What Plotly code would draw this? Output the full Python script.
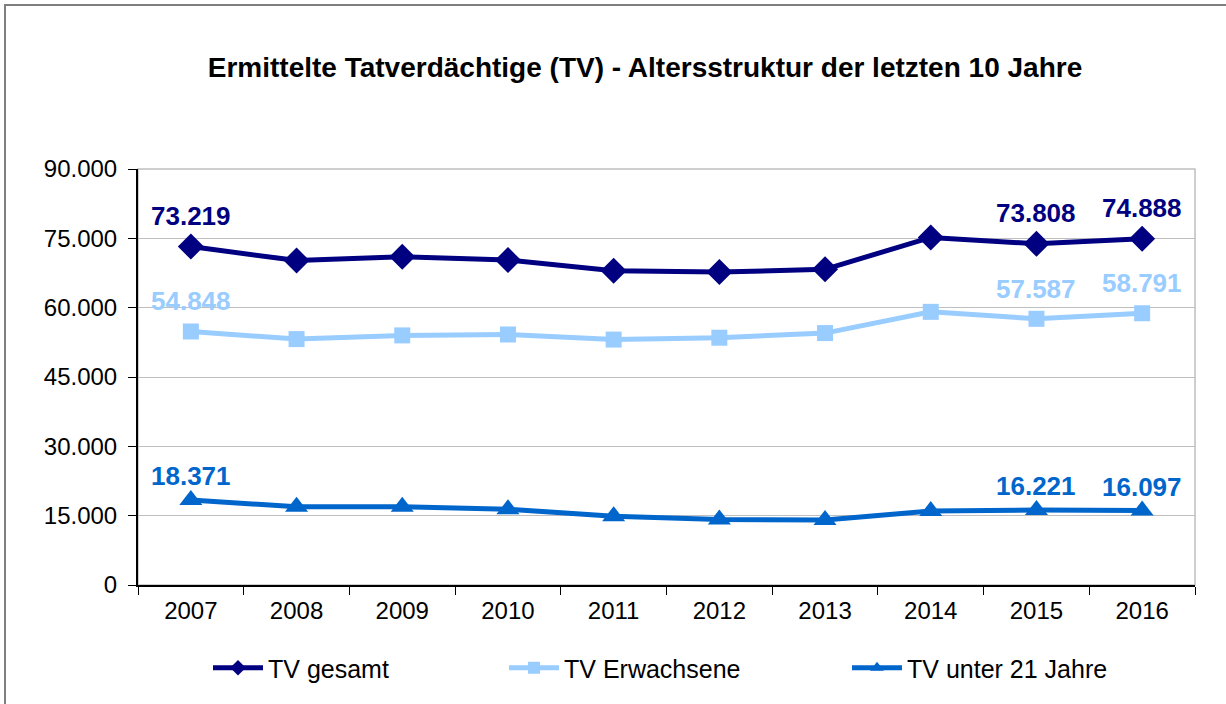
import plotly.graph_objects as go

years = ["2007", "2008", "2009", "2010", "2011", "2012", "2013", "2014", "2015", "2016"]
tv_gesamt = [73219, 70200, 71000, 70300, 68000, 67700, 68300, 75200, 73808, 74888]
tv_erwachsene = [54848, 53200, 54000, 54200, 53100, 53500, 54500, 59100, 57587, 58791]
tv_unter21 = [18371, 16950, 16950, 16400, 14900, 14150, 14050, 16000, 16221, 16097]
label_idx = [0, 8, 9]

FONT = "Liberation Sans, Arial, sans-serif"
series = [
    ("TV gesamt", tv_gesamt, "#000080", "diamond", 20, "legend", 31),
    ("TV Erwachsene", tv_erwachsene, "#99CCFF", "square", 16, "legend2", 30),
    ("TV unter 21 Jahre", tv_unter21, "#0066CC", "triangle-up", 20, "legend3", 24),
]

fig = go.Figure()
annotations = []
for name, vals, color, sym, msize, leg, shift in series:
    fig.add_trace(go.Scatter(
        x=years, y=vals, name=name, mode="lines+markers",
        line=dict(color=color, width=5),
        marker=dict(symbol=sym, size=msize, color=color),
        legend=leg, showlegend=True,
    ))
    for i in label_idx:
        annotations.append(dict(
            x=i, y=vals[i], xref="x", yref="y",
            text=f"{vals[i]:,}".replace(",", "."), showarrow=False,
            yshift=shift, font=dict(family=FONT, size=26, color=color, weight="bold"),
        ))

L, R, T, B = 138, 1195, 169, 585
W, H = 1226, 704
pw, ph = R - L, B - T

def px2x(px):
    return (px - L) / pw

def px2y(py):
    return (B - py) / ph

leg_common = dict(orientation="h", xanchor="left", yanchor="middle",
                  xref="container", yref="container",
                  font=dict(family=FONT, size=25, color="#000000"),
                  bgcolor="rgba(0,0,0,0)", itemwidth=50, itemsizing="constant")

fig.update_layout(
    width=W, height=H,
    showlegend=True,
    margin=dict(l=L, r=W - R, t=T, b=H - B, autoexpand=False),
    paper_bgcolor="white", plot_bgcolor="white",
    separators=",.",
    title=dict(text="<b>Ermittelte Tatverdächtige (TV) - Altersstruktur der letzten 10 Jahre</b>",
               x=645 / W, xref="container", xanchor="center",
               y=1 - 67 / H, yref="container", yanchor="middle",
               font=dict(family=FONT, size=28, color="#000000")),
    xaxis=dict(type="category", range=[-0.5, 9.5], showline=True, linecolor="#000000", linewidth=2,
               ticks="outside", tickson="boundaries", ticklen=8, tickcolor="#000000",
               showgrid=False, automargin=False, tickangle=0, ticklabelstandoff=3,
               tickfont=dict(family=FONT, size=24, color="#000000")),
    yaxis=dict(range=[0, 90000], dtick=15000, tickformat=",d", showline=True,
               linecolor="#000000", linewidth=2, ticks="outside", ticklen=8,
               tickcolor="#000000", gridcolor="#BFBFBF", gridwidth=1, zeroline=False,
               automargin=False, ticklabelstandoff=6,
               tickfont=dict(family=FONT, size=24, color="#000000")),
    legend=dict(x=208 / W, y=1 - 668 / H, **leg_common),
    legend2=dict(x=504 / W, y=1 - 668 / H, **leg_common),
    legend3=dict(x=847 / W, y=1 - 668 / H, **leg_common),
    annotations=annotations,
    shapes=[
        dict(type="rect", xref="x domain", yref="y domain", x0=0, x1=1, y0=0, y1=1,
             line=dict(color="#BFBFBF", width=1.5), layer="below"),
        dict(type="rect", xref="paper", yref="paper",
             x0=px2x(5), x1=px2x(1300), y0=px2y(800), y1=px2y(5),
             line=dict(color="#7F7F7F", width=2)),
    ],
)

fig.write_html("out.html", config={"displayModeBar": False},
               post_script="document.body.style.margin='0px';")
